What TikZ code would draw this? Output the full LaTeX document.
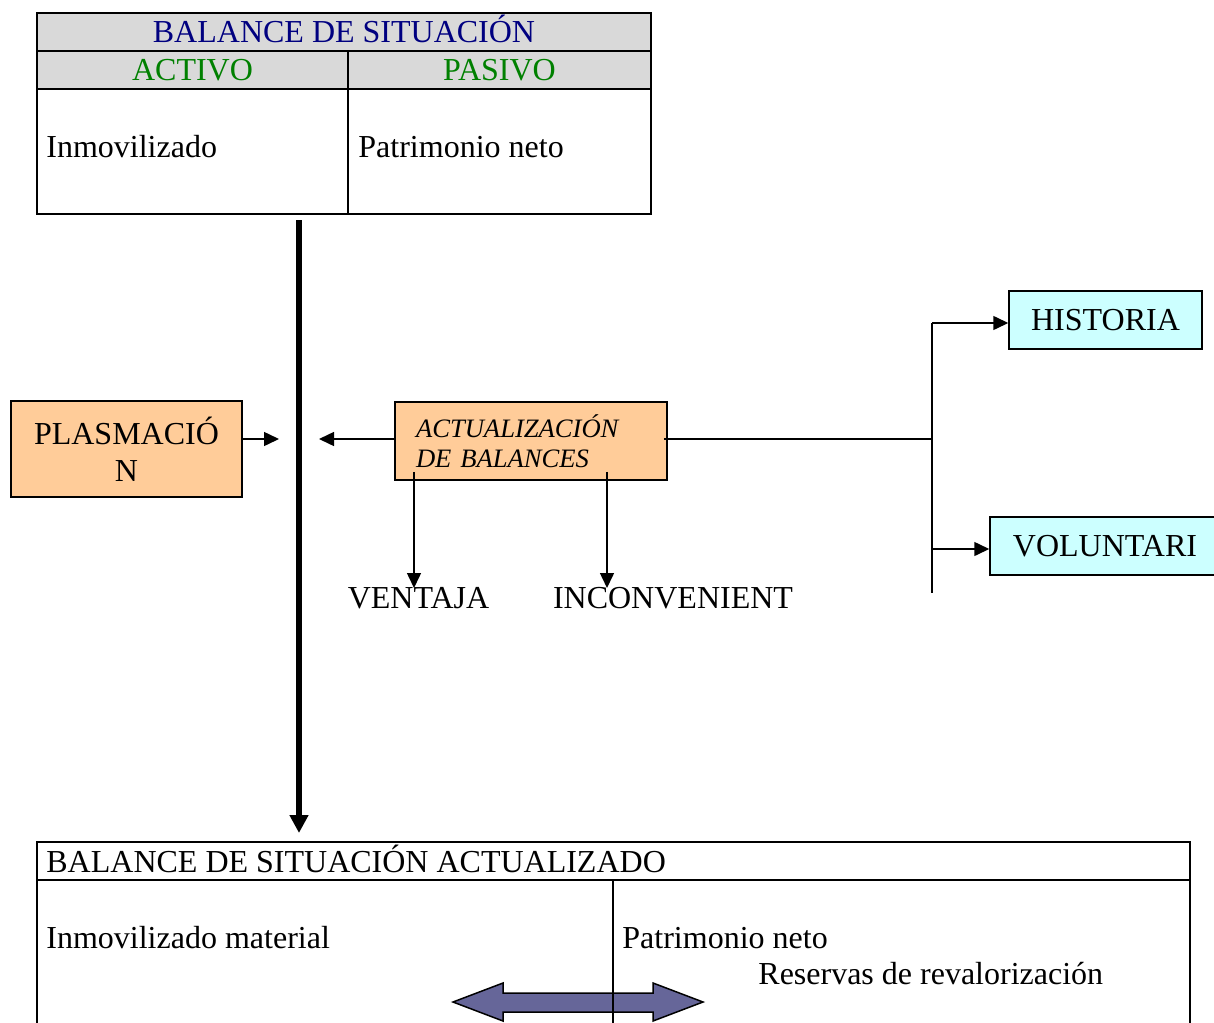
\documentclass[tikz,border=0pt]{standalone}
\usepackage{fontspec}
\setmainfont{Liberation Serif}
\usetikzlibrary{arrows.meta}
\definecolor{navyt}{RGB}{0,0,128}
\definecolor{greent}{RGB}{0,128,0}
\definecolor{grayhead}{RGB}{217,217,217}
\definecolor{orangebox}{RGB}{255,204,153}
\definecolor{cyanbox}{RGB}{204,255,255}
\definecolor{arrowfill}{RGB}{102,102,153}
\tikzset{
  txt/.style={inner sep=0pt, font=\fontsize{16}{18.4}\selectfont},
  tabline/.style={line width=1pt},
  boxnode/.style={draw=black, line width=0.75pt, inner sep=0pt, align=center, font=\fontsize{16}{18.4}\selectfont},
  conn/.style={line width=0.75pt, -{Triangle[length=7.5pt,width=7pt]}},
  plainline/.style={line width=0.75pt},
}
\begin{document}
\begin{tikzpicture}[x=0.5pt,y=-0.5pt]
\useasboundingbox (0,0) rectangle (1214,1022);
\clip (0,0) rectangle (1214,1022);
% top table
\fill[grayhead] (37,13) rectangle (651,89);
\node[draw=black, line width=1pt, minimum width=307pt, minimum height=100.5pt, inner sep=0pt] (bal) at (344,113.5) {};
\draw[tabline] (37,51) -- (651,51);
\draw[tabline] (37,89) -- (651,89);
\draw[tabline] (348,51) -- (348,214);
\node[txt, text=navyt, anchor=base] (baltitle) at (344,43) {BALANCE DE SITUACIÓN};
\node[txt, text=greent, anchor=base] (activo) at (192.5,81) {ACTIVO};
\node[txt, text=greent, anchor=base] (pasivo) at (499.5,81) {PASIVO};
\node[txt, anchor=base west] (inm) at (46,157) {Inmovilizado};
\node[txt, anchor=base west] (pat) at (358,157) {Patrimonio neto};
% thick arrow
\coordinate (tstart) at (299,220);
\coordinate (tend) at (299,833);
\draw[line width=3pt, -{Triangle[length=9pt,width=9pt]}] (tstart) -- (tend);
% boxes
\node[boxnode, fill=orangebox, minimum width=115.5pt, minimum height=48pt] (plasm) at (126.5,449) {PLASMACIÓ\\N};
\node[boxnode, fill=orangebox, minimum width=136pt, minimum height=39pt, align=left, text width=115pt, inner xsep=10.5pt, font=\fontsize{13.3}{15}\selectfont\itshape] (act) at (531,441) {ACTUALIZACIÓN\\DE BALANCES};
\node[boxnode, fill=cyanbox, minimum width=96.5pt, minimum height=29pt] (hist) at (1105.5,320) {HISTORIA};
\node[boxnode, fill=cyanbox, minimum width=115pt, minimum height=29pt] (volun) at (1105,546) {VOLUNTARI};
% connectors
\coordinate (pend) at (279,439);
\draw[conn] (plasm.east |- pend) -- (pend);
\coordinate (aend) at (319,439);
\draw[conn] (act.west |- aend) -- (aend);
\coordinate (trtop) at (932,323);
\coordinate (trbot) at (932,593);
\coordinate (trmid) at (932,439);
\coordinate (trvol) at (932,549);
\draw[plainline] (trtop) -- (trbot);
\draw[plainline] ([xshift=-2pt]act.east |- trmid) -- (trmid);
\draw[conn] (trtop) -- (hist.west |- trtop);
\draw[conn] (trvol) -- (volun.west |- trvol);
\coordinate (vend) at (414,588);
\coordinate (iend) at (607,588);
\draw[conn] ([yshift=4.5pt]act.south -| vend) -- (vend);
\draw[conn] ([yshift=4.5pt]act.south -| iend) -- (iend);
\node[txt, anchor=base] (ventaja) at (418.5,608) {VENTAJA};
\node[txt, anchor=base] (incon) at (673,608) {INCONVENIENT};
% bottom table
\draw[tabline] (37,1030) -- (37,842) -- (1190,842) -- (1190,1030);
\draw[tabline] (37,880) -- (1190,880);
\node[txt, anchor=base west] (baltitle2) at (46,872) {BALANCE DE SITUACIÓN ACTUALIZADO};
\node[txt, anchor=base west] (inm2) at (46,948) {Inmovilizado material};
\node[txt, anchor=base west] (pat2) at (622,948) {Patrimonio neto};
\node[txt, anchor=base west] (res) at (758,984) {Reservas de revalorización};
% double arrow
\draw[fill=arrowfill, line width=0.75pt, line join=miter] (453,1002) -- (503,983) -- (503,993) -- (653,993) -- (653,983) -- (703,1002) -- (653,1021) -- (653,1012) -- (503,1012) -- (503,1021) -- cycle;
\draw[plainline] (613,880) -- (613,1030);
\end{tikzpicture}
\end{document}
